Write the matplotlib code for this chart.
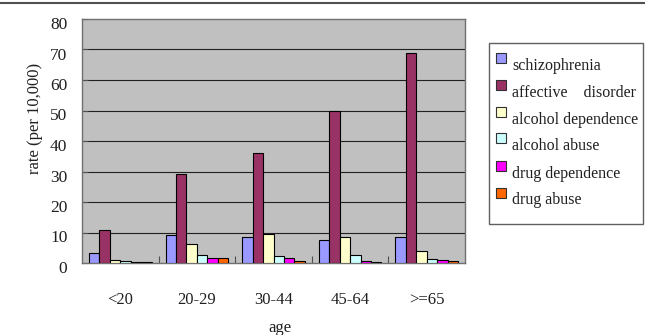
import matplotlib
matplotlib.use('Agg')
import matplotlib.pyplot as plt
import matplotlib.transforms as mtransforms
from matplotlib.patches import Rectangle
from matplotlib.lines import Line2D
import numpy as np

plt.rcParams['font.family'] = ['Liberation Serif', 'DejaVu Serif']

# data
ages = ['<20', '20-29', '30-44', '45-64', '>=65']
series_names = ['schizophrenia', 'affective    disorder', 'alcohol dependence',
                'alcohol abuse', 'drug dependence', 'drug abuse']
schizophrenia = [3.4, 9.1, 8.5, 7.7, 8.5]
affective = [10.8, 29.2, 36.0, 49.8, 69.0]
alcohol_dep = [1.1, 6.3, 9.6, 8.5, 3.8]
alcohol_abuse = [0.8, 2.5, 2.2, 2.6, 1.2]
drug_dep = [0.3, 1.7, 1.5, 0.8, 1.0]
drug_abuse = [0.3, 1.5, 0.8, 0.4, 0.5]
colors = ['#9999FF', '#993366', '#FFFFCC', '#CCFFFF', '#FF00FF', '#FF6600']
y_ticks = [0, 10, 20, 30, 40, 50, 60, 70, 80]

W, H = 645, 335
fig = plt.figure(figsize=(W / 100, H / 100), dpi=100)
ax = fig.add_axes([82 / W, (H - 263) / H, (465 - 82) / W, (263 - 19) / H])
ax.set_facecolor('#C0C0C0')

all_series = [schizophrenia, affective, alcohol_dep, alcohol_abuse, drug_dep, drug_abuse]
x = np.arange(len(ages))
bw = 0.136
for i, vals in enumerate(all_series):
    ax.bar(x + (i - 2.5) * bw, vals, bw, color=colors[i], edgecolor='black',
           linewidth=0.8, zorder=3)

ax.set_xlim(-0.5, 4.5)
ax.set_ylim(0, 80)
for v in y_ticks[1:-1]:
    ax.axhline(v, color='#202020', linewidth=0.8, zorder=1)
for s in ax.spines.values():
    s.set_color('#707070')
    s.set_linewidth(1.0)

# x ticks: marks at group boundaries, labels at centres
ax.set_xticks(np.arange(0.5, 4.5, 1.0))
ax.set_xticklabels([])
ax.tick_params(axis='x', which='major', direction='in', length=5, color='#505050')
ax.set_xticks(x, minor=True)
ax.set_xticklabels(ages, minor=True, fontsize=12, color='#202020')
ax.tick_params(axis='x', which='minor', length=0, pad=21)

# y ticks, labels drawn a bit below gridlines like the original
ax.set_yticks(y_ticks)
ax.set_yticklabels([])
ax.tick_params(axis='y', direction='in', length=4, color='#505050')
trans = mtransforms.blended_transform_factory(ax.transAxes, ax.transData) + \
    mtransforms.ScaledTranslation(0, -6 / 100, fig.dpi_scale_trans)
for v in y_ticks:
    ax.text(-0.038, v, str(v), transform=trans, ha='right', va='center',
            fontsize=12.5, color='#202020')

fig.text(280 / W, 1 - 328 / H, 'age', ha='center', va='center', fontsize=12,
         color='#202020')
fig.text(35 / W, 1 - 118 / H, 'rate (per 10,000)', rotation=90, ha='center',
         va='center', fontsize=12, color='#202020')

# legend box drawn by hand
fig.patches.append(Rectangle((489 / W, 1 - 224 / H), (643 - 489) / W, (224 - 43) / H,
                             transform=fig.transFigure, facecolor='white',
                             edgecolor='#606060', linewidth=1.0))
mark_y = [58, 85, 112, 138.5, 166, 193]
text_y = [66, 93, 119.5, 146.5, 173.5, 200.5]
for i, name in enumerate(series_names):
    fig.patches.append(Rectangle((496 / W, 1 - (mark_y[i] + 5) / H), 10 / W, 10 / H,
                                 transform=fig.transFigure, facecolor=colors[i],
                                 edgecolor='#303030', linewidth=0.8))
    fig.text(512 / W, 1 - text_y[i] / H, name, ha='left', va='center', fontsize=11.5,
             color='#202020')

# thin frame line at the very top
fig.add_artist(Line2D([0, 1], [1 - 3 / H, 1 - 3 / H], transform=fig.transFigure,
                      color='#505050', linewidth=1.5))

fig.savefig('out.png', dpi=100)
